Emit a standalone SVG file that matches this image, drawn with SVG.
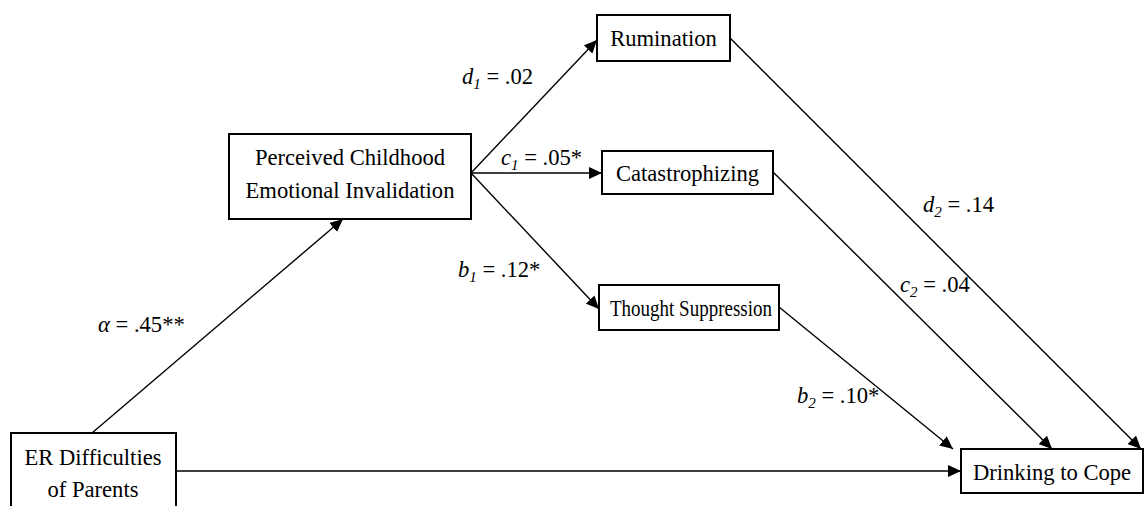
<svg xmlns="http://www.w3.org/2000/svg" width="1145" height="506" viewBox="0 0 1145 506">
  <defs>
    <marker id="arrow" markerUnits="userSpaceOnUse" markerWidth="14" markerHeight="12" refX="13" refY="6" orient="auto">
      <path d="M0,0 L13,6 L0,12 z" fill="#000"/>
    </marker>
    <style>
      .box { fill: #fff; stroke: #000; stroke-width: 2; }
      .lbl { font-family: "Liberation Serif", "Times New Roman", serif; font-size: 22.6px; fill: #000; }
      .coef { font-family: "Liberation Serif", "Times New Roman", serif; font-size: 22.6px; fill: #000; }
      .it { font-style: italic; }
      .sub { font-size: 15px; font-style: italic; }
      .edge { stroke: #000; stroke-width: 1.4; fill: none; marker-end: url(#arrow); }
    </style>
  </defs>
  <rect width="1145" height="506" fill="#fff"/>

  <!-- connectors -->
  <g id="connectors">
    <line class="edge" x1="92" y1="433" x2="343" y2="219"/>
    <line class="edge" x1="176" y1="471" x2="961" y2="471"/>
    <line class="edge" x1="471" y1="173" x2="597" y2="40"/>
    <line class="edge" x1="471" y1="173" x2="602" y2="173"/>
    <line class="edge" x1="471" y1="173" x2="599" y2="309"/>
    <line class="edge" x1="730" y1="38" x2="1141" y2="449"/>
    <line class="edge" x1="773" y1="172" x2="1052" y2="449"/>
    <line class="edge" x1="779" y1="307" x2="953" y2="449"/>
  </g>

  <!-- path coefficients -->
  <g id="coefficients">
    <text class="coef" x="98" y="332"><tspan class="it">α</tspan> = .45**</text>
    <text class="coef" x="462" y="84"><tspan class="it">d</tspan><tspan class="sub" dy="5">1</tspan><tspan dy="-5"> = .02</tspan></text>
    <text class="coef" x="501" y="165"><tspan class="it">c</tspan><tspan class="sub" dy="5">1</tspan><tspan dy="-5"> = .05*</tspan></text>
    <text class="coef" x="458" y="277"><tspan class="it">b</tspan><tspan class="sub" dy="5">1</tspan><tspan dy="-5"> = .12*</tspan></text>
    <text class="coef" x="923" y="212"><tspan class="it">d</tspan><tspan class="sub" dy="5">2</tspan><tspan dy="-5"> = .14</tspan></text>
    <text class="coef" x="900" y="292"><tspan class="it">c</tspan><tspan class="sub" dy="5">2</tspan><tspan dy="-5"> = .04</tspan></text>
    <text class="coef" x="797" y="403"><tspan class="it">b</tspan><tspan class="sub" dy="5">2</tspan><tspan dy="-5"> = .10*</tspan></text>
  </g>

  <!-- nodes -->
  <g id="er-difficulties">
    <rect class="box" x="11" y="433" width="165" height="80"/>
    <text class="lbl" x="93" y="465" text-anchor="middle">ER Difficulties</text>
    <text class="lbl" x="93" y="497" text-anchor="middle">of Parents</text>
  </g>
  <g id="invalidation">
    <rect class="box" x="229" y="134" width="242" height="85"/>
    <text class="lbl" x="350" y="165" text-anchor="middle">Perceived Childhood</text>
    <text class="lbl" x="350" y="198" text-anchor="middle">Emotional Invalidation</text>
  </g>
  <g id="rumination">
    <rect class="box" x="597" y="15" width="133" height="46"/>
    <text class="lbl" x="663.5" y="46" text-anchor="middle">Rumination</text>
  </g>
  <g id="catastrophizing">
    <rect class="box" x="602" y="151" width="171" height="43"/>
    <text class="lbl" x="687.5" y="181" text-anchor="middle">Catastrophizing</text>
  </g>
  <g id="thought-suppression">
    <rect class="box" x="599" y="285" width="180" height="45"/>
    <text class="lbl" x="610" y="316" textLength="162" lengthAdjust="spacingAndGlyphs">Thought Suppression</text>
  </g>
  <g id="drinking">
    <rect class="box" x="961" y="449" width="182" height="44"/>
    <text class="lbl" x="1052" y="480" text-anchor="middle">Drinking to Cope</text>
  </g>
</svg>
